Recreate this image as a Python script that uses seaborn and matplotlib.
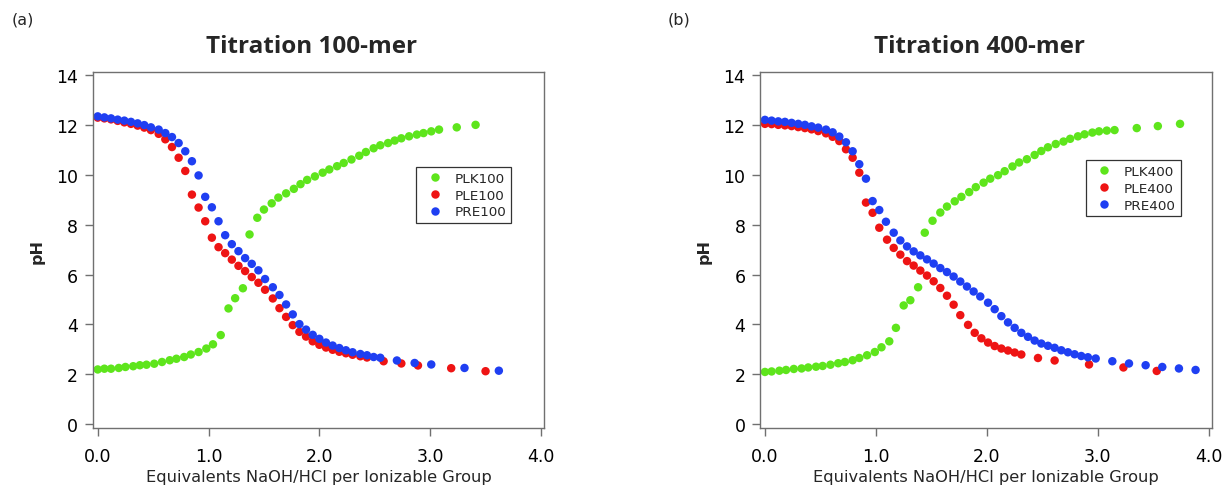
import matplotlib
matplotlib.use("Agg")
import matplotlib.pyplot as plt
import pandas as pd
import seaborn as sns

# ---- 100-mer titration ----
plk100_x = [0.00, 0.06, 0.12, 0.19, 0.25, 0.32, 0.38, 0.44, 0.51, 0.58, 0.65, 0.71, 0.78, 0.84, 0.91, 0.98,
            1.04, 1.11, 1.18, 1.24, 1.31, 1.37, 1.44, 1.50, 1.57, 1.63, 1.70, 1.77, 1.83, 1.89, 1.96, 2.03,
            2.09, 2.16, 2.22, 2.29, 2.36, 2.42, 2.49, 2.55, 2.62, 2.68, 2.74, 2.81, 2.88, 2.94, 3.01, 3.08,
            3.24, 3.41]
plk100_y = [2.19, 2.22, 2.22, 2.25, 2.29, 2.32, 2.36, 2.38, 2.42, 2.49, 2.56, 2.62, 2.69, 2.79, 2.89, 3.03,
            3.20, 3.57, 4.64, 5.05, 5.45, 7.61, 8.28, 8.61, 8.86, 9.09, 9.26, 9.44, 9.63, 9.80, 9.94, 10.09,
            10.22, 10.35, 10.48, 10.62, 10.77, 10.92, 11.07, 11.19, 11.28, 11.38, 11.47, 11.55, 11.62, 11.68, 11.75, 11.82,
            11.91, 12.01]

ple100_x = [0.00, 0.06, 0.12, 0.18, 0.24, 0.30, 0.36, 0.42, 0.48, 0.55, 0.61, 0.67, 0.73, 0.79, 0.85, 0.91,
            0.97, 1.03, 1.09, 1.15, 1.21, 1.27, 1.33, 1.39, 1.45, 1.51, 1.58, 1.64, 1.70, 1.76, 1.82, 1.88,
            1.94, 2.00, 2.06, 2.12, 2.18, 2.24, 2.30, 2.37, 2.43, 2.58, 2.74, 2.89, 3.19, 3.50]
ple100_y = [12.30, 12.27, 12.23, 12.17, 12.11, 12.05, 11.98, 11.90, 11.80, 11.65, 11.43, 11.12, 10.69, 10.16, 9.21, 8.69,
            8.14, 7.48, 7.10, 6.86, 6.60, 6.35, 6.14, 5.90, 5.67, 5.39, 5.04, 4.65, 4.30, 3.97, 3.70, 3.51,
            3.32, 3.18, 3.07, 2.98, 2.90, 2.84, 2.78, 2.72, 2.67, 2.52, 2.43, 2.35, 2.24, 2.12]

pre100_x = [0.00, 0.06, 0.12, 0.18, 0.24, 0.30, 0.36, 0.42, 0.48, 0.55, 0.61, 0.67, 0.73, 0.79, 0.85, 0.91,
            0.97, 1.03, 1.09, 1.15, 1.21, 1.27, 1.33, 1.39, 1.45, 1.51, 1.58, 1.64, 1.70, 1.76, 1.82, 1.88,
            1.94, 2.00, 2.06, 2.12, 2.18, 2.24, 2.30, 2.37, 2.43, 2.49, 2.55, 2.70, 2.86, 3.01, 3.31, 3.62]
pre100_y = [12.35, 12.31, 12.27, 12.22, 12.18, 12.13, 12.07, 12.00, 11.91, 11.82, 11.68, 11.52, 11.28, 10.95, 10.55, 9.98,
            9.12, 8.70, 8.14, 7.58, 7.22, 6.94, 6.66, 6.43, 6.17, 5.82, 5.49, 5.18, 4.80, 4.40, 4.01, 3.79,
            3.58, 3.42, 3.27, 3.15, 3.05, 2.96, 2.88, 2.81, 2.76, 2.69, 2.66, 2.55, 2.45, 2.39, 2.25, 2.14]

# ---- 400-mer titration ----
plk400_x = [0.00, 0.06, 0.13, 0.19, 0.26, 0.33, 0.39, 0.46, 0.52, 0.59, 0.66, 0.72, 0.79, 0.85, 0.92, 0.99,
            1.05, 1.12, 1.18, 1.25, 1.31, 1.38, 1.44, 1.51, 1.58, 1.64, 1.71, 1.77, 1.84, 1.90, 1.97, 2.03,
            2.10, 2.16, 2.23, 2.29, 2.36, 2.43, 2.49, 2.55, 2.62, 2.69, 2.75, 2.82, 2.88, 2.95, 3.01, 3.08,
            3.15, 3.35, 3.54, 3.74]
plk400_y = [2.09, 2.11, 2.14, 2.17, 2.21, 2.23, 2.27, 2.30, 2.33, 2.38, 2.44, 2.49, 2.56, 2.65, 2.76, 2.89,
            3.08, 3.32, 3.86, 4.76, 4.97, 5.49, 7.68, 8.16, 8.49, 8.73, 8.94, 9.12, 9.31, 9.51, 9.69, 9.85,
            9.99, 10.15, 10.34, 10.50, 10.63, 10.80, 10.96, 11.11, 11.24, 11.34, 11.45, 11.55, 11.63, 11.70, 11.75, 11.78,
            11.80, 11.88, 11.96, 12.05]

ple400_x = [0.00, 0.06, 0.12, 0.18, 0.24, 0.30, 0.36, 0.42, 0.48, 0.55, 0.61, 0.67, 0.73, 0.79, 0.85, 0.91,
            0.97, 1.03, 1.10, 1.16, 1.22, 1.28, 1.34, 1.40, 1.46, 1.52, 1.58, 1.64, 1.70, 1.76, 1.83, 1.89,
            1.95, 2.01, 2.07, 2.13, 2.19, 2.25, 2.31, 2.46, 2.61, 2.92, 3.23, 3.53]
ple400_y = [12.05, 12.04, 12.01, 11.99, 11.96, 11.92, 11.88, 11.83, 11.76, 11.67, 11.53, 11.36, 11.03, 10.69, 10.09, 8.89,
            8.48, 7.88, 7.40, 7.07, 6.80, 6.54, 6.36, 6.16, 5.96, 5.73, 5.46, 5.15, 4.79, 4.37, 3.98, 3.66,
            3.44, 3.27, 3.13, 3.03, 2.95, 2.87, 2.79, 2.65, 2.55, 2.39, 2.27, 2.13]

pre400_x = [0.00, 0.06, 0.12, 0.18, 0.24, 0.30, 0.36, 0.42, 0.48, 0.55, 0.61, 0.67, 0.73, 0.79, 0.85, 0.91,
            0.97, 1.03, 1.09, 1.16, 1.22, 1.28, 1.34, 1.40, 1.46, 1.52, 1.58, 1.64, 1.70, 1.76, 1.82, 1.88,
            1.94, 2.01, 2.07, 2.13, 2.19, 2.25, 2.31, 2.37, 2.43, 2.49, 2.55, 2.61, 2.67, 2.73, 2.79, 2.85,
            2.91, 2.98, 3.13, 3.28, 3.43, 3.58, 3.73, 3.88]
pre400_y = [12.21, 12.18, 12.15, 12.13, 12.09, 12.05, 12.01, 11.95, 11.90, 11.82, 11.71, 11.54, 11.31, 10.95, 10.43, 9.85,
            8.95, 8.59, 8.12, 7.68, 7.37, 7.13, 6.93, 6.77, 6.61, 6.44, 6.26, 6.10, 5.92, 5.72, 5.52, 5.32,
            5.12, 4.87, 4.61, 4.33, 4.08, 3.86, 3.66, 3.50, 3.35, 3.23, 3.14, 3.06, 2.96, 2.88, 2.80, 2.73,
            2.68, 2.63, 2.52, 2.43, 2.36, 2.29, 2.23, 2.17]

x_ticks = [0.0, 1.0, 2.0, 3.0, 4.0]
y_ticks = [0, 2, 4, 6, 8, 10, 12, 14]

GREEN, RED, BLUE = "#5EE51C", "#EE1414", "#1F3FF2"
AXIS_GREY = "#707070"

sns.set_theme(style="ticks")
plt.rcParams["font.family"] = ["DejaVu Sans"]

fig = plt.figure(figsize=(12.22, 4.89), dpi=100)
ax_a = fig.add_axes([0.0759, 0.1217, 0.3695, 0.7284])
ax_b = fig.add_axes([0.6219, 0.1217, 0.3701, 0.7284])


def draw_panel(ax, series, title, legend_anchor):
    frames = [pd.DataFrame({"eq": x, "pH": y, "sample": name}) for name, x, y, _ in series]
    data = pd.concat(frames, ignore_index=True)
    palette = {name: color for name, _, _, color in series}
    sns.scatterplot(data=data, x="eq", y="pH", hue="sample", palette=palette,
                    s=37, linewidth=0, alpha=1.0, ax=ax)

    ax.set_xlim(-0.045, 4.03)
    ax.set_ylim(-0.18, 14.12)
    ax.set_xticks(x_ticks)
    ax.set_xticklabels([f"{t:.1f}" for t in x_ticks])
    ax.set_yticks(y_ticks)
    ax.tick_params(axis="both", direction="out", length=6, width=1.0,
                   color=AXIS_GREY, labelsize=12.5, labelcolor="black")
    ax.tick_params(axis="x", pad=7)
    ax.tick_params(axis="y", pad=4.5)
    for side in ("left", "right", "top", "bottom"):
        ax.spines[side].set_visible(True)
        ax.spines[side].set_color(AXIS_GREY)
        ax.spines[side].set_linewidth(1.0)

    ax.set_xlabel("Equivalents NaOH/HCl per Ionizable Group", fontsize=11.7)
    ax.xaxis.set_label_coords(0.5, -0.115)
    ax.set_ylabel("pH", fontsize=11.5, fontweight="bold")
    ax.yaxis.set_label_coords(-0.107, 0.5)

    ax.text(0.485, 1.057, title, transform=ax.transAxes, ha="center", va="baseline",
            fontsize=17.5, fontweight="bold", family="Open Sans")

    ax.legend(loc="upper right", bbox_to_anchor=legend_anchor, frameon=True, fancybox=False,
              edgecolor="#333333", framealpha=1.0, fontsize=9.7, borderpad=0.35,
              labelspacing=0.28, handletextpad=0.5, borderaxespad=0.0, markerscale=1.0)
    ax.get_legend().get_frame().set_linewidth(0.9)


draw_panel(ax_a,
           [("PLK100", plk100_x, plk100_y, GREEN),
            ("PLE100", ple100_x, ple100_y, RED),
            ("PRE100", pre100_x, pre100_y, BLUE)],
           "Titration 100-mer", (0.927, 0.734))
draw_panel(ax_b,
           [("PLK400", plk400_x, plk400_y, GREEN),
            ("PLE400", ple400_x, ple400_y, RED),
            ("PRE400", pre400_x, pre400_y, BLUE)],
           "Titration 400-mer", (0.930, 0.753))

fig.text(12 / 1222, 1 - 20 / 489, "(a)", fontsize=11.5, va="center", ha="left")
fig.text(668 / 1222, 1 - 20 / 489, "(b)", fontsize=11.5, va="center", ha="left")

fig.savefig("out.png", dpi=100, facecolor="white")
